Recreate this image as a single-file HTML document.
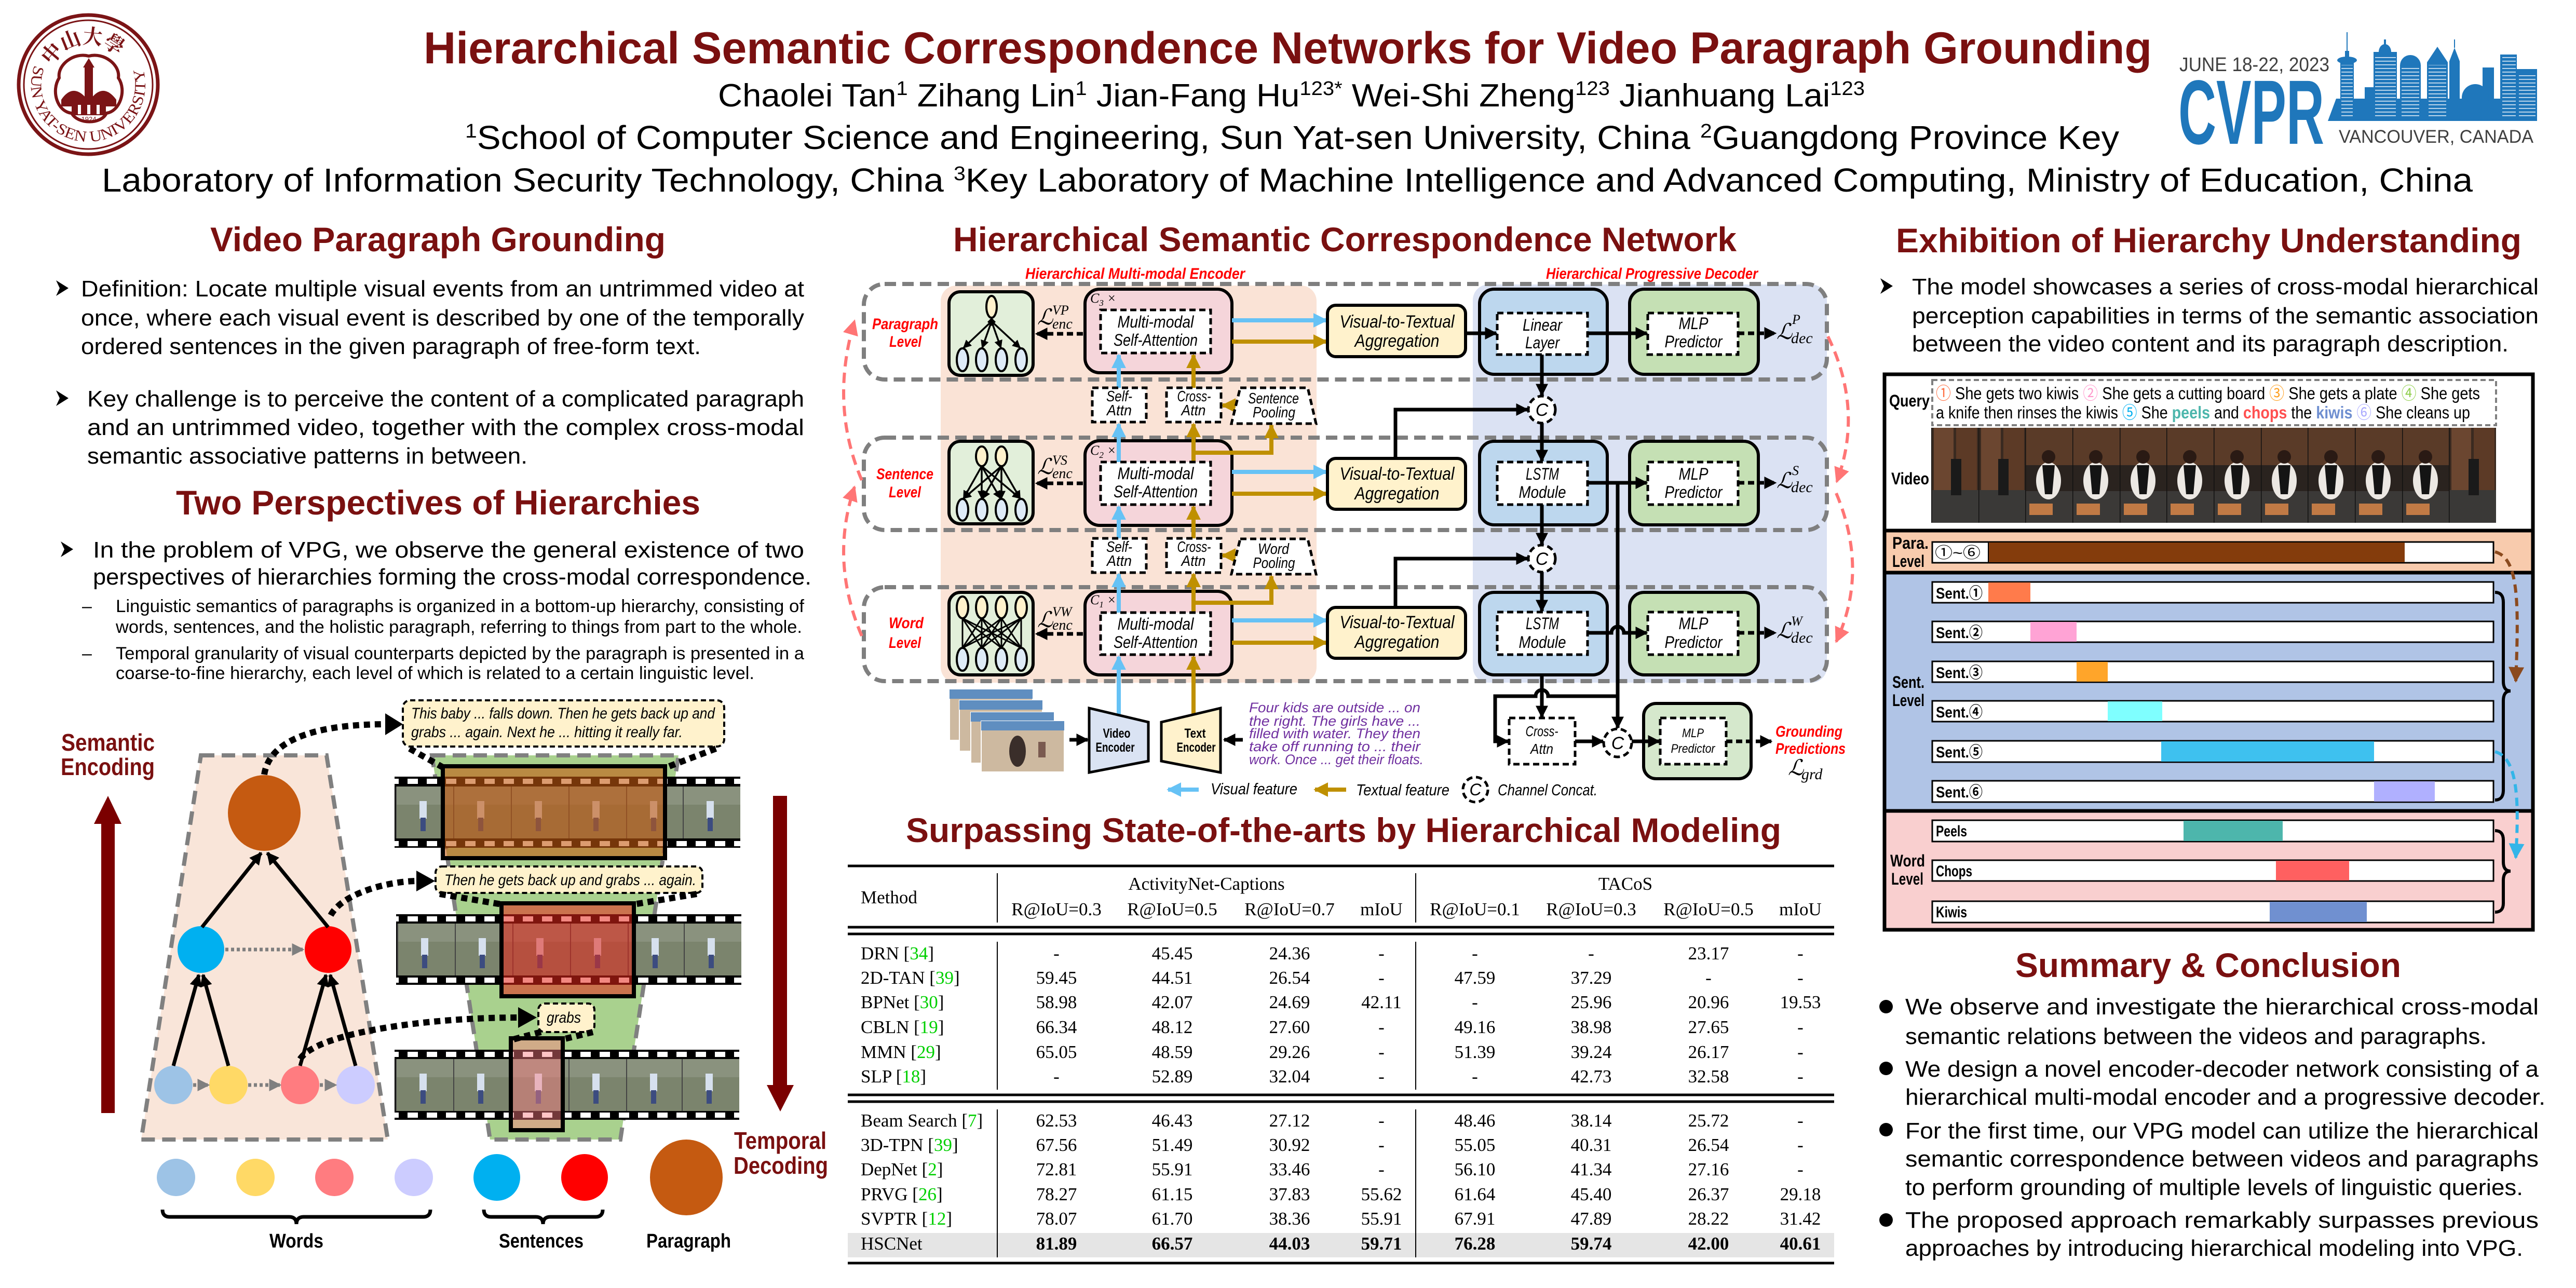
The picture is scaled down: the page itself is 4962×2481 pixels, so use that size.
<!DOCTYPE html>
<html><head><meta charset="utf-8">
<style>
html,body{margin:0;padding:0;background:#fff;}
svg{display:block}
text{font-family:'Liberation Sans','Noto Sans CJK JP',sans-serif;}
.h{font-weight:bold;font-size:66px;fill:#7A1010}
.b{font-size:44px;fill:#000}
.s{font-size:34px;fill:#000}
.it{font-style:italic}
.bd{font-weight:bold}
.sr, .sr text{font-family:'Liberation Serif','DejaVu Serif',serif}
.rl{font-weight:bold;font-style:italic;font-size:30px;fill:#FF0000}
.dt{font-style:italic;font-size:32px;fill:#000}
.tb, .tb text{font-family:'Liberation Serif','DejaVu Serif',serif;font-size:35px;fill:#000}
.cj, .cj text{font-family:'Liberation Sans','Noto Sans CJK JP',sans-serif}
</style></head><body>
<svg xmlns="http://www.w3.org/2000/svg" width="4962" height="2481" viewBox="0 0 4962 2481">
<defs>
<marker id="mk" viewBox="0 0 10 10" refX="9" refY="5" markerWidth="24" markerHeight="24" markerUnits="userSpaceOnUse" orient="auto"><path d="M0,0L10,5L0,10z" fill="#000"/></marker>
<marker id="mks" viewBox="0 0 10 10" refX="9" refY="5" markerWidth="16" markerHeight="16" markerUnits="userSpaceOnUse" orient="auto"><path d="M0,0L10,5L0,10z" fill="#000"/></marker>
<marker id="mkb" viewBox="0 0 10 10" refX="9" refY="5" markerWidth="28" markerHeight="28" markerUnits="userSpaceOnUse" orient="auto"><path d="M0,0L10,5L0,10z" fill="#66C2F5"/></marker>
<marker id="mkg" viewBox="0 0 10 10" refX="9" refY="5" markerWidth="28" markerHeight="28" markerUnits="userSpaceOnUse" orient="auto"><path d="M0,0L10,5L0,10z" fill="#BF9000"/></marker>
<marker id="mkgr" viewBox="0 0 10 10" refX="9" refY="5" markerWidth="24" markerHeight="24" markerUnits="userSpaceOnUse" orient="auto"><path d="M0,0L10,5L0,10z" fill="#7F7F7F"/></marker>
<marker id="mkr" viewBox="0 0 10 10" refX="9" refY="5" markerWidth="30" markerHeight="30" markerUnits="userSpaceOnUse" orient="auto"><path d="M0,0L10,5L0,10z" fill="#FF7575"/></marker>
<marker id="mkbr" viewBox="0 0 10 10" refX="9" refY="5" markerWidth="30" markerHeight="30" markerUnits="userSpaceOnUse" orient="auto"><path d="M0,0L10,5L0,10z" fill="#8B4A1E"/></marker>
<marker id="mkc" viewBox="0 0 10 10" refX="9" refY="5" markerWidth="30" markerHeight="30" markerUnits="userSpaceOnUse" orient="auto"><path d="M0,0L10,5L0,10z" fill="#33B5E8"/></marker>
<pattern id="holes" patternUnits="userSpaceOnUse" width="37" height="4"><rect x="8" y="0" width="20" height="4" fill="#fff"/></pattern>
<pattern id="win" patternUnits="userSpaceOnUse" width="6" height="7"><rect x="0" y="5" width="6" height="1.6" fill="#fff" opacity="0.85"/></pattern>
<g id="gf"><rect width="111" height="100" fill="#7B846D"/><rect width="111" height="35" fill="#8A927E"/><rect x="46" y="28" width="14" height="34" fill="#D6E0EE"/><rect x="48" y="60" width="10" height="26" fill="#3C4C80"/><rect x="0" y="0" width="2" height="100" fill="#444"/></g>
<g id="kf"><rect width="91" height="183" fill="#2A231F"/><rect width="91" height="72" fill="#5A3B28"/><rect y="122" width="91" height="61" fill="#3B3937"/><ellipse cx="45" cy="102" rx="24" ry="36" fill="#ECE8E3"/><path d="M33,72 L57,72 L52,128 L38,128Z" fill="#141414"/><circle cx="45" cy="56" r="13" fill="#2A1A14"/><rect x="8" y="146" width="45" height="22" fill="#C17A45"/><rect width="1.5" height="183" fill="#111"/></g>
<g id="kf2"><rect width="91" height="183" fill="#3A2A20"/><rect x="5" y="0" width="38" height="120" fill="#6B4630"/><rect x="48" y="0" width="40" height="120" fill="#5C3A26"/><rect y="120" width="91" height="63" fill="#3A3937"/><rect x="38" y="60" width="20" height="70" fill="#1A1A1A"/><rect width="1.5" height="183" fill="#111"/></g>
<g id="bf"><rect width="160" height="98" fill="#CDB9A0" stroke="#fff" stroke-width="2"/><rect width="160" height="18" fill="#5F8EC0"/><ellipse cx="70" cy="58" rx="16" ry="30" fill="#3A2E2A"/><rect x="110" y="40" width="14" height="30" fill="#7A5A50"/></g>
</defs>

<!-- ================= HEADER ================= -->
<g>
<circle cx="170" cy="163" r="134" fill="none" stroke="#7B1416" stroke-width="7"/>
<circle cx="170" cy="163" r="124" fill="none" stroke="#7B1416" stroke-width="3"/>
<path id="lgB" d="M 66.6,125.4 A 110 110 0 1 0 273.4,125.4" fill="none"/>
<text font-size="30" fill="#7B1416" class="sr"><textPath href="#lgB" textLength="415" lengthAdjust="spacingAndGlyphs">SUN YAT-SEN UNIVERSITY</textPath></text>
<path id="lgT" d="M 97,135 A 78 78 0 0 1 243,135" fill="none"/>
<text font-size="40" fill="#7B1416" style="font-family:'Noto Serif CJK SC','Noto Sans CJK SC',serif;font-weight:bold"><textPath href="#lgT" textLength="150" lengthAdjust="spacingAndGlyphs" startOffset="8">中山大學</textPath></text>
<path d="M171,108 C200,100 232,125 228,150 C245,175 230,215 205,218 C195,240 150,240 138,218 C110,215 98,175 114,150 C110,125 142,100 171,108Z" fill="#fff" stroke="#7B1416" stroke-width="6"/>
<path d="M118,192 Q140,160 165,188 L177,188 Q200,160 224,192 L224,205 L118,205Z" fill="#7B1416"/>
<rect x="163" y="128" width="16" height="75" fill="#7B1416"/>
<path d="M160,130 L171,112 L182,130Z" fill="#7B1416"/>
<rect x="138" y="196" width="66" height="26" fill="#7B1416"/>
<rect x="150" y="202" width="6" height="18" fill="#fff"/><rect x="168" y="202" width="6" height="18" fill="#fff"/><rect x="186" y="202" width="6" height="18" fill="#fff"/>
<text x="171" y="234" font-size="13" fill="#7B1416" text-anchor="middle">1924</text>
</g>

<text x="816" y="122" font-size="86" font-weight="bold" fill="#7A1010" textLength="3329" lengthAdjust="spacingAndGlyphs">Hierarchical Semantic Correspondence Networks for Video Paragraph Grounding</text>
<text x="1383" y="205" font-size="62" textLength="2209" lengthAdjust="spacingAndGlyphs">Chaolei Tan<tspan dy="-22" font-size="38">1</tspan><tspan dy="22"> Zihang Lin</tspan><tspan dy="-22" font-size="38">1</tspan><tspan dy="22"> Jian-Fang Hu</tspan><tspan dy="-22" font-size="38">123*</tspan><tspan dy="22"> Wei-Shi Zheng</tspan><tspan dy="-22" font-size="38">123</tspan><tspan dy="22"> Jianhuang Lai</tspan><tspan dy="-22" font-size="38">123</tspan></text>
<text x="896" y="287" font-size="64" textLength="3186" lengthAdjust="spacingAndGlyphs"><tspan dy="-22" font-size="38">1</tspan><tspan dy="22">School of Computer Science and Engineering, Sun Yat-sen University, China </tspan><tspan dy="-22" font-size="38">2</tspan><tspan dy="22">Guangdong Province Key</tspan></text>
<text x="196" y="369" font-size="64" textLength="4567" lengthAdjust="spacingAndGlyphs">Laboratory of Information Security Technology, China <tspan dy="-22" font-size="38">3</tspan><tspan dy="22">Key Laboratory of Machine Intelligence and Advanced Computing, Ministry of Education, China</tspan></text>

<!-- CVPR logo -->
<g>
<text x="4198" y="137" font-size="38" fill="#404040" textLength="289" lengthAdjust="spacingAndGlyphs">JUNE 18-22, 2023</text>
<text x="4196" y="277" font-size="176" font-weight="bold" fill="#1F77BB" textLength="281" lengthAdjust="spacingAndGlyphs">CVPR</text>
<text x="4505" y="275" font-size="35" fill="#404040" textLength="375" lengthAdjust="spacingAndGlyphs">VANCOUVER, CANADA</text>
<g fill="#1F77BB">
<path d="M4484,233 L4500,190 L4887,190 L4887,233Z"/>
<rect x="4508" y="118" width="26" height="115"/>
<ellipse cx="4521" cy="116" rx="19" ry="7"/>
<rect x="4517" y="98" width="8" height="14"/>
<rect x="4520" y="62" width="2" height="38"/>
<rect x="4572" y="100" width="45" height="133"/>
<ellipse cx="4594" cy="100" rx="12" ry="15"/>
<rect x="4592" y="76" width="4" height="12"/>
<rect x="4623" y="125" width="40" height="108"/>
<path d="M4623,126 A20,20 0 0 1 4663,126Z"/>
<path d="M4675,120 L4695,90 L4715,120Z"/>
<rect x="4675" y="120" width="40" height="113"/>
<path d="M4718,118 L4728,92 L4738,118Z"/>
<rect x="4718" y="118" width="20" height="115"/>
<rect x="4727" y="76" width="2" height="16"/>
<rect x="4782" y="130" width="22" height="103"/>
<circle cx="4768" cy="188" r="26"/>
<rect x="4816" y="105" width="32" height="128"/>
<rect x="4848" y="133" width="39" height="100"/>
<rect x="4555" y="168" width="60" height="65"/>
</g>
<rect x="4510" y="125" width="22" height="100" fill="url(#win)"/>
<rect x="4575" y="105" width="40" height="120" fill="url(#win)"/>
<rect x="4626" y="130" width="34" height="95" fill="url(#win)"/>
<rect x="4678" y="125" width="34" height="100" fill="url(#win)"/>
<rect x="4820" y="110" width="26" height="115" fill="url(#win)"/>
<rect x="4852" y="140" width="32" height="85" fill="url(#win)"/>
</g>

<!-- ================= LEFT COLUMN ================= -->
<text class="h" x="405" y="484" textLength="877" lengthAdjust="spacingAndGlyphs">Video Paragraph Grounding</text>
<path d="M108,540 L132,555 L108,570 L115,555Z"/>
<text class="b" x="156" y="571" textLength="1393" lengthAdjust="spacingAndGlyphs">Definition: Locate multiple visual events from an untrimmed video at</text>
<text class="b" x="156" y="627" textLength="1393" lengthAdjust="spacingAndGlyphs">once, where each visual event is described by one of the temporally</text>
<text class="b" x="156" y="682" textLength="1194" lengthAdjust="spacingAndGlyphs">ordered sentences in the given paragraph of free-form text.</text>
<path d="M108,752 L132,767 L108,782 L115,767Z"/>
<text class="b" x="168" y="783" textLength="1381" lengthAdjust="spacingAndGlyphs">Key challenge is to perceive the content of a complicated paragraph</text>
<text class="b" x="168" y="838" textLength="1381" lengthAdjust="spacingAndGlyphs">and an untrimmed video, together with the complex cross-modal</text>
<text class="b" x="168" y="893" textLength="848" lengthAdjust="spacingAndGlyphs">semantic associative patterns in between.</text>

<text class="h" x="339" y="991" textLength="1010" lengthAdjust="spacingAndGlyphs">Two Perspectives of Hierarchies</text>
<path d="M117,1043 L141,1058 L117,1073 L124,1058Z"/>
<text class="b" x="179" y="1074" textLength="1370" lengthAdjust="spacingAndGlyphs">In the problem of VPG, we observe the general existence of two</text>
<text class="b" x="179" y="1126" textLength="1384" lengthAdjust="spacingAndGlyphs">perspectives of hierarchies forming the cross-modal correspondence.</text>
<text class="s" x="158" y="1179">–</text>
<text class="s" x="223" y="1179" textLength="1326" lengthAdjust="spacingAndGlyphs">Linguistic semantics of paragraphs is organized in a bottom-up hierarchy, consisting of</text>
<text class="s" x="223" y="1219" textLength="1322" lengthAdjust="spacingAndGlyphs">words, sentences, and the holistic paragraph, referring to things from part to the whole.</text>
<text class="s" x="158" y="1270">–</text>
<text class="s" x="223" y="1270" textLength="1326" lengthAdjust="spacingAndGlyphs">Temporal granularity of visual counterparts depicted by the paragraph is presented in a</text>
<text class="s" x="223" y="1308" textLength="1230" lengthAdjust="spacingAndGlyphs">coarse-to-fine hierarchy, each level of which is related to a certain linguistic level.</text>

<!-- Left diagram -->
<text x="118" y="1446" font-size="46" font-weight="bold" fill="#7A1010" textLength="180" lengthAdjust="spacingAndGlyphs">Semantic</text>
<text x="117" y="1493" font-size="46" font-weight="bold" fill="#7A1010" textLength="181" lengthAdjust="spacingAndGlyphs">Encoding</text>
<rect x="195" y="1585" width="26" height="559" fill="#7B0000"/>
<path d="M181,1587 L234,1587 L208,1533Z" fill="#7B0000"/>
<rect x="1489" y="1533" width="27" height="559" fill="#7B0000"/>
<path d="M1477,2090 L1529,2090 L1503,2141Z" fill="#7B0000"/>
<text x="1414" y="2213" font-size="46" font-weight="bold" fill="#7A1010" textLength="178" lengthAdjust="spacingAndGlyphs">Temporal</text>
<text x="1413" y="2261" font-size="46" font-weight="bold" fill="#7A1010" textLength="182" lengthAdjust="spacingAndGlyphs">Decoding</text>

<polygon points="387,1455 629,1455 747,2195 272,2195" fill="#F9E5D9" stroke="#808080" stroke-width="8" stroke-dasharray="26 14"/>
<polygon points="832,1455 1307,1455 1195,2195 944,2195" fill="#A9D18E" stroke="#808080" stroke-width="8" stroke-dasharray="26 14"/>

<!-- film strips -->
<rect x="760" y="1496" width="666" height="137" fill="#000"/>
<use href="#gf" x="762" y="1515"/><use href="#gf" x="873" y="1515"/><use href="#gf" x="984" y="1515"/><use href="#gf" x="1095" y="1515"/><use href="#gf" x="1206" y="1515"/><use href="#gf" x="1315" y="1515"/>
<rect x="760" y="1500" width="666" height="10" fill="url(#holes)"/><rect x="760" y="1620" width="666" height="10" fill="url(#holes)"/>
<rect x="763" y="1761" width="665" height="136" fill="#000"/>
<use href="#gf" x="765" y="1779"/><use href="#gf" x="876" y="1779"/><use href="#gf" x="987" y="1779"/><use href="#gf" x="1098" y="1779"/><use href="#gf" x="1209" y="1779"/><use href="#gf" x="1317" y="1779"/>
<rect x="763" y="1765" width="665" height="10" fill="url(#holes)"/><rect x="763" y="1883" width="665" height="10" fill="url(#holes)"/>
<rect x="760" y="2022" width="664" height="135" fill="#000"/>
<use href="#gf" x="762" y="2040"/><use href="#gf" x="873" y="2040"/><use href="#gf" x="984" y="2040"/><use href="#gf" x="1095" y="2040"/><use href="#gf" x="1206" y="2040"/><use href="#gf" x="1313" y="2040"/>
<rect x="760" y="2026" width="664" height="10" fill="url(#holes)"/><rect x="760" y="2143" width="664" height="10" fill="url(#holes)"/>
<rect x="853" y="1476" width="428" height="177" fill="#C55A11" fill-opacity="0.6" stroke="#000" stroke-width="8"/>
<rect x="966" y="1740" width="255" height="179" fill="#E8261A" fill-opacity="0.55" stroke="#000" stroke-width="8"/>
<rect x="984" y="2000" width="100" height="177" fill="#FF7C80" fill-opacity="0.45" stroke="#000" stroke-width="8"/>

<!-- nodes -->
<ellipse cx="509" cy="1566" rx="70" ry="73" fill="#C55A11"/>
<ellipse cx="387" cy="1829" rx="45" ry="45" fill="#00B0F0"/>
<ellipse cx="632" cy="1829" rx="45" ry="45" fill="#FF0000"/>
<ellipse cx="334" cy="2090" rx="37" ry="37" fill="#9DC3E6"/>
<ellipse cx="440" cy="2090" rx="37" ry="37" fill="#FFD966"/>
<ellipse cx="578" cy="2090" rx="37" ry="37" fill="#FF7C80"/>
<ellipse cx="685" cy="2090" rx="37" ry="37" fill="#CCCCFF"/>
<g stroke="#000" stroke-width="7" marker-end="url(#mk)">
<line x1="334" y1="2053" x2="383" y2="1878"/>
<line x1="440" y1="2053" x2="391" y2="1878"/>
<line x1="578" y1="2053" x2="628" y2="1878"/>
<line x1="685" y1="2053" x2="636" y2="1878"/>
<line x1="389" y1="1786" x2="503" y2="1643"/>
<line x1="632" y1="1786" x2="515" y2="1643"/>
</g>
<g stroke="#7F7F7F" stroke-width="7" stroke-dasharray="6 5" marker-end="url(#mkgr)">
<line x1="434" y1="1829" x2="584" y2="1829"/>
<line x1="372" y1="2090" x2="402" y2="2090"/>
<line x1="478" y1="2090" x2="540" y2="2090"/>
<line x1="616" y1="2090" x2="647" y2="2090"/>
</g>
<!-- text boxes -->
<rect x="776" y="1349" width="619" height="89" rx="14" fill="#FFF2CC" stroke="#000" stroke-width="4" stroke-dasharray="10 6"/>
<text x="792" y="1384" font-size="30" font-style="italic" textLength="585" lengthAdjust="spacingAndGlyphs">This baby ... falls down. Then he gets back up and</text>
<text x="792" y="1420" font-size="30" font-style="italic" textLength="523" lengthAdjust="spacingAndGlyphs">grabs ... again. Next he ... hitting it really far.</text>
<rect x="839" y="1669" width="514" height="51" rx="12" fill="#FFF2CC" stroke="#000" stroke-width="4" stroke-dasharray="10 6"/>
<text x="856" y="1705" font-size="30" font-style="italic" textLength="485" lengthAdjust="spacingAndGlyphs">Then he gets back up and grabs ... again.</text>
<rect x="1037" y="1933" width="108" height="55" rx="12" fill="#FFF2CC" stroke="#000" stroke-width="4" stroke-dasharray="10 6"/>
<text x="1053" y="1970" font-size="30" font-style="italic" textLength="66" lengthAdjust="spacingAndGlyphs">grabs</text>
<!-- dotted curves -->
<g fill="none" stroke="#000" stroke-width="12" stroke-dasharray="12 9">
<path d="M509,1492 C520,1420 620,1395 745,1395"/>
<path d="M637,1763 C660,1720 750,1697 805,1697"/>
<path d="M578,2040 C610,1990 820,1960 1000,1960"/>
<line x1="789" y1="1442" x2="853" y2="1478"/>
<line x1="1379" y1="1442" x2="1284" y2="1478"/>
<line x1="847" y1="1722" x2="966" y2="1742"/>
<line x1="1342" y1="1722" x2="1221" y2="1742"/>
<line x1="1042" y1="1988" x2="989" y2="2002"/>
<line x1="1142" y1="1988" x2="1084" y2="2002"/>
</g>
<path d="M742,1374 L776,1395 L742,1416Z"/>
<path d="M802,1677 L838,1697 L802,1717Z"/>
<path d="M998,1940 L1034,1960 L998,1980Z"/>
<!-- legend -->
<ellipse cx="339" cy="2268" rx="37" ry="36" fill="#9DC3E6"/>
<ellipse cx="492" cy="2268" rx="37" ry="36" fill="#FFD966"/>
<ellipse cx="644" cy="2268" rx="37" ry="36" fill="#FF7C80"/>
<ellipse cx="797" cy="2268" rx="37" ry="36" fill="#CCCCFF"/>
<ellipse cx="957" cy="2268" rx="45" ry="45" fill="#00B0F0"/>
<ellipse cx="1126" cy="2268" rx="45" ry="45" fill="#FF0000"/>
<ellipse cx="1322" cy="2268" rx="70" ry="73" fill="#C55A11"/>
<path d="M313,2330 q0,14 14,14 H557 q14,0 14,14 q0,-14 14,-14 H815 q14,0 14,-14" fill="none" stroke="#000" stroke-width="7"/>
<path d="M932,2330 q0,14 14,14 H1032 q14,0 14,14 q0,-14 14,-14 H1147 q14,0 14,-14" fill="none" stroke="#000" stroke-width="7"/>
<text x="519" y="2403" font-size="38" font-weight="bold" textLength="104" lengthAdjust="spacingAndGlyphs">Words</text>
<text x="961" y="2403" font-size="38" font-weight="bold" textLength="163" lengthAdjust="spacingAndGlyphs">Sentences</text>
<text x="1245" y="2403" font-size="38" font-weight="bold" textLength="163" lengthAdjust="spacingAndGlyphs">Paragraph</text>

<!-- ================= MIDDLE COLUMN ================= -->
<text class="h" x="1836" y="484" textLength="1509" lengthAdjust="spacingAndGlyphs">Hierarchical Semantic Correspondence Network</text>
<text class="rl" x="1975" y="537" textLength="423" lengthAdjust="spacingAndGlyphs">Hierarchical  Multi-modal Encoder</text>
<text class="rl" x="2978" y="537" textLength="408" lengthAdjust="spacingAndGlyphs">Hierarchical Progressive Decoder</text>

<rect x="1812" y="550" width="724" height="765" rx="30" fill="#FAE3D6"/>
<rect x="2837" y="548" width="682" height="767" rx="30" fill="#DBE2F3"/>
<g fill="none" stroke="#7F7F7F" stroke-width="8" stroke-dasharray="22 12">
<rect x="1664" y="547" width="1855" height="184" rx="40"/>
<rect x="1664" y="843" width="1855" height="178" rx="40"/>
<rect x="1664" y="1131" width="1855" height="181" rx="40"/>
</g>
<!-- level labels -->
<text class="rl" x="1680" y="634" textLength="127" lengthAdjust="spacingAndGlyphs">Paragraph</text>
<text class="rl" x="1713" y="668" textLength="62" lengthAdjust="spacingAndGlyphs">Level</text>
<text class="rl" x="1688" y="923" textLength="110" lengthAdjust="spacingAndGlyphs">Sentence</text>
<text class="rl" x="1712" y="958" textLength="62" lengthAdjust="spacingAndGlyphs">Level</text>
<text class="rl" x="1712" y="1210" textLength="67" lengthAdjust="spacingAndGlyphs">Word</text>
<text class="rl" x="1712" y="1248" textLength="62" lengthAdjust="spacingAndGlyphs">Level</text>

<!-- red dashed curves -->
<g fill="none" stroke="#FF7575" stroke-width="6" stroke-dasharray="20 12" marker-end="url(#mkr)">
<path d="M1660,925 Q1598,780 1646,618"/>
<path d="M1660,1225 Q1598,1080 1646,938"/>
<path d="M3521,648 Q3590,790 3538,928"/>
<path d="M3537,950 Q3600,1100 3537,1236"/>
</g>

<!-- graph boxes -->
<g stroke="#000" stroke-width="6" fill="#E2EFDA">
<rect x="1828" y="562" width="162" height="161" rx="22"/>
<rect x="1828" y="850" width="162" height="159" rx="22"/>
<rect x="1828" y="1141" width="162" height="159" rx="22"/>
</g>
<g stroke="#000" stroke-width="3.5" marker-end="url(#mks)">
<line x1="1910" y1="619" x2="1856" y2="670"/><line x1="1910" y1="619" x2="1892" y2="670"/><line x1="1910" y1="619" x2="1928" y2="670"/><line x1="1910" y1="619" x2="1965" y2="670"/>
<line x1="1891" y1="898" x2="1856" y2="960"/><line x1="1891" y1="898" x2="1891" y2="960"/><line x1="1891" y1="898" x2="1927" y2="960"/><line x1="1891" y1="898" x2="1965" y2="960"/>
<line x1="1929" y1="898" x2="1856" y2="960"/><line x1="1929" y1="898" x2="1893" y2="960"/><line x1="1929" y1="898" x2="1929" y2="960"/><line x1="1929" y1="898" x2="1965" y2="960"/>
</g>
<g stroke="#000" stroke-width="3">
<line x1="1854" y1="1191" x2="1854" y2="1248"/><line x1="1854" y1="1191" x2="1891" y2="1248"/><line x1="1854" y1="1191" x2="1929" y2="1248"/><line x1="1854" y1="1191" x2="1967" y2="1248"/>
<line x1="1891" y1="1191" x2="1854" y2="1248"/><line x1="1891" y1="1191" x2="1891" y2="1248"/><line x1="1891" y1="1191" x2="1929" y2="1248"/><line x1="1891" y1="1191" x2="1967" y2="1248"/>
<line x1="1929" y1="1191" x2="1854" y2="1248"/><line x1="1929" y1="1191" x2="1891" y2="1248"/><line x1="1929" y1="1191" x2="1929" y2="1248"/><line x1="1929" y1="1191" x2="1967" y2="1248"/>
<line x1="1967" y1="1191" x2="1854" y2="1248"/><line x1="1967" y1="1191" x2="1891" y2="1248"/><line x1="1967" y1="1191" x2="1929" y2="1248"/><line x1="1967" y1="1191" x2="1967" y2="1248"/>
</g>
<path d="M1910,612 L1918,620 L1910,628 L1902,620Z"/>
<g stroke="#000" stroke-width="4">
<ellipse cx="1910" cy="591" rx="10" ry="21" fill="#FFF2CC"/>
<ellipse cx="1854" cy="693" rx="11" ry="22" fill="#DEEBF7"/><ellipse cx="1891" cy="693" rx="11" ry="22" fill="#DEEBF7"/><ellipse cx="1929" cy="693" rx="11" ry="22" fill="#DEEBF7"/><ellipse cx="1967" cy="693" rx="11" ry="22" fill="#DEEBF7"/>
<ellipse cx="1891" cy="879" rx="11" ry="19" fill="#FFF2CC"/><ellipse cx="1929" cy="879" rx="11" ry="19" fill="#FFF2CC"/>
<ellipse cx="1854" cy="982" rx="11" ry="21" fill="#DEEBF7"/><ellipse cx="1891" cy="982" rx="11" ry="21" fill="#DEEBF7"/><ellipse cx="1929" cy="982" rx="11" ry="21" fill="#DEEBF7"/><ellipse cx="1967" cy="982" rx="11" ry="21" fill="#DEEBF7"/>
<ellipse cx="1854" cy="1170" rx="11" ry="21" fill="#FFF2CC"/><ellipse cx="1891" cy="1170" rx="11" ry="21" fill="#FFF2CC"/><ellipse cx="1929" cy="1170" rx="11" ry="21" fill="#FFF2CC"/><ellipse cx="1967" cy="1170" rx="11" ry="21" fill="#FFF2CC"/>
<ellipse cx="1854" cy="1270" rx="11" ry="22" fill="#DEEBF7"/><ellipse cx="1891" cy="1270" rx="11" ry="22" fill="#DEEBF7"/><ellipse cx="1929" cy="1270" rx="11" ry="22" fill="#DEEBF7"/><ellipse cx="1967" cy="1270" rx="11" ry="22" fill="#DEEBF7"/>
</g>

<!-- L_enc labels -->
<g class="sr" font-style="italic">
<text x="1998" y="625" font-size="42">ℒ</text><text x="2027" y="606" font-size="26">VP</text><text x="2027" y="633" font-size="28">enc</text>
<text x="1998" y="913" font-size="42">ℒ</text><text x="2027" y="895" font-size="26">VS</text><text x="2027" y="921" font-size="28">enc</text>
<text x="1998" y="1208" font-size="42">ℒ</text><text x="2027" y="1187" font-size="26">VW</text><text x="2027" y="1213" font-size="28">enc</text>
</g>
<g stroke="#000" stroke-width="7" stroke-dasharray="12 7" marker-end="url(#mk)">
<line x1="2086" y1="643" x2="1996" y2="643"/>
<line x1="2086" y1="931" x2="1996" y2="931"/>
<line x1="2086" y1="1221" x2="1996" y2="1221"/>
</g>

<!-- pink boxes -->
<g stroke="#000" stroke-width="6" fill="#F5D5DA">
<rect x="2090" y="557" width="283" height="161" rx="28"/>
<rect x="2090" y="849" width="283" height="163" rx="28"/>
<rect x="2090" y="1139" width="283" height="161" rx="28"/>
</g>
<g class="sr" font-style="italic" font-size="26">
<text x="2100" y="583">C<tspan font-size="17" dy="6">3</tspan><tspan dy="-6"> ×</tspan></text>
<text x="2100" y="876">C<tspan font-size="17" dy="6">2</tspan><tspan dy="-6"> ×</tspan></text>
<text x="2100" y="1164">C<tspan font-size="17" dy="6">1</tspan><tspan dy="-6"> ×</tspan></text>
</g>

<!-- vertical blue/gold lines (behind inner boxes) -->
<g stroke="#66C2F5" stroke-width="8" marker-end="url(#mkb)">
<line x1="2155" y1="747" x2="2155" y2="684"/>
<line x1="2155" y1="890" x2="2155" y2="817"/>
<line x1="2155" y1="1037" x2="2155" y2="976"/>
<line x1="2155" y1="1180" x2="2155" y2="1106"/>
<line x1="2155" y1="1377" x2="2155" y2="1265"/>
</g>
<g stroke="#BF9000" stroke-width="8" fill="none">
<line x1="2299" y1="747" x2="2299" y2="684" marker-end="url(#mkg)"/>
<line x1="2299" y1="890" x2="2299" y2="817" marker-end="url(#mkg)"/>
<line x1="2299" y1="1037" x2="2299" y2="976" marker-end="url(#mkg)"/>
<line x1="2299" y1="1180" x2="2299" y2="1106" marker-end="url(#mkg)"/>
<line x1="2299" y1="1376" x2="2299" y2="1265" marker-end="url(#mkg)"/>
<path d="M2299,872 H2449 V819" marker-end="url(#mkg)"/>
<path d="M2299,1161 H2449 V1110" marker-end="url(#mkg)"/>
<line x1="2380" y1="781" x2="2355" y2="781" marker-end="url(#mkg)"/>
<line x1="2380" y1="1070" x2="2355" y2="1070" marker-end="url(#mkg)"/>
</g>

<!-- inner dashed boxes -->
<g fill="#fff" stroke="#000" stroke-width="5" stroke-dasharray="12 7">
<rect x="2120" y="597" width="212" height="83"/>
<rect x="2120" y="890" width="212" height="82"/>
<rect x="2120" y="1180" width="212" height="81"/>
<rect x="2104" y="747" width="104" height="66"/>
<rect x="2247" y="747" width="105" height="66"/>
<rect x="2104" y="1037" width="104" height="66"/>
<rect x="2247" y="1037" width="105" height="66"/>
<polygon points="2389,747 2519,747 2535,816 2372,816"/>
<polygon points="2389,1038 2519,1038 2535,1106 2372,1106"/>
</g>
<g class="dt" text-anchor="middle">
<text x="2226" y="631" textLength="147" lengthAdjust="spacingAndGlyphs">Multi-modal</text>
<text x="2226" y="666" textLength="162" lengthAdjust="spacingAndGlyphs">Self-Attention</text>
<text x="2226" y="923" textLength="147" lengthAdjust="spacingAndGlyphs">Multi-modal</text>
<text x="2226" y="958" textLength="162" lengthAdjust="spacingAndGlyphs">Self-Attention</text>
<text x="2226" y="1213" textLength="147" lengthAdjust="spacingAndGlyphs">Multi-modal</text>
<text x="2226" y="1248" textLength="162" lengthAdjust="spacingAndGlyphs">Self-Attention</text>
</g>
<g font-style="italic" font-size="29" text-anchor="middle">
<text x="2156" y="773" textLength="50" lengthAdjust="spacingAndGlyphs">Self-</text>
<text x="2156" y="800" textLength="48" lengthAdjust="spacingAndGlyphs">Attn</text>
<text x="2300" y="773" textLength="65" lengthAdjust="spacingAndGlyphs">Cross-</text>
<text x="2299" y="800" textLength="47" lengthAdjust="spacingAndGlyphs">Attn</text>
<text x="2453" y="777" textLength="98" lengthAdjust="spacingAndGlyphs">Sentence</text>
<text x="2454" y="804" textLength="82" lengthAdjust="spacingAndGlyphs">Pooling</text>
<text x="2156" y="1063" textLength="50" lengthAdjust="spacingAndGlyphs">Self-</text>
<text x="2156" y="1090" textLength="48" lengthAdjust="spacingAndGlyphs">Attn</text>
<text x="2300" y="1063" textLength="65" lengthAdjust="spacingAndGlyphs">Cross-</text>
<text x="2299" y="1090" textLength="47" lengthAdjust="spacingAndGlyphs">Attn</text>
<text x="2453" y="1067" textLength="60" lengthAdjust="spacingAndGlyphs">Word</text>
<text x="2454" y="1094" textLength="81" lengthAdjust="spacingAndGlyphs">Pooling</text>
</g>

<!-- horizontal blue/gold arrows -->
<g stroke="#66C2F5" stroke-width="8" marker-end="url(#mkb)">
<line x1="2373" y1="617" x2="2555" y2="617"/>
<line x1="2373" y1="909" x2="2555" y2="909"/>
<line x1="2373" y1="1195" x2="2555" y2="1195"/>
</g>
<g stroke="#BF9000" stroke-width="8" marker-end="url(#mkg)">
<line x1="2373" y1="658" x2="2555" y2="658"/>
<line x1="2373" y1="951" x2="2555" y2="951"/>
<line x1="2373" y1="1238" x2="2555" y2="1238"/>
</g>

<!-- V2T boxes -->
<g stroke="#000" stroke-width="6" fill="#FFF2CC">
<rect x="2557" y="588" width="266" height="99" rx="16"/>
<rect x="2557" y="883" width="266" height="98" rx="16"/>
<rect x="2557" y="1170" width="266" height="98" rx="16"/>
</g>
<g font-style="italic" font-size="34" text-anchor="middle">
<text x="2691" y="631" textLength="221" lengthAdjust="spacingAndGlyphs">Visual-to-Textual</text>
<text x="2691" y="668" textLength="163" lengthAdjust="spacingAndGlyphs">Aggregation</text>
<text x="2691" y="924" textLength="221" lengthAdjust="spacingAndGlyphs">Visual-to-Textual</text>
<text x="2691" y="962" textLength="163" lengthAdjust="spacingAndGlyphs">Aggregation</text>
<text x="2691" y="1210" textLength="221" lengthAdjust="spacingAndGlyphs">Visual-to-Textual</text>
<text x="2691" y="1248" textLength="163" lengthAdjust="spacingAndGlyphs">Aggregation</text>
</g>

<!-- decoder connections -->
<g stroke="#000" stroke-width="7" fill="none">
<path d="M2688,883 V789 H2942" marker-end="url(#mk)"/>
<path d="M2688,1170 V1076 H2942" marker-end="url(#mk)"/>
<line x1="3116" y1="930" x2="3116" y2="1402" marker-end="url(#mk)"/>
<path d="M3116,1341 H2982 a12,12 0 0 0 -24,0 H2880 V1428 H2905" marker-end="url(#mk)"/>
<line x1="2970" y1="1261" x2="2970" y2="1381" marker-end="url(#mk)"/>
</g>

<!-- decoder boxes -->
<g stroke="#000" stroke-width="6">
<rect x="2850" y="557" width="246" height="164" rx="28" fill="#BDD7EE"/>
<rect x="2850" y="850" width="246" height="161" rx="28" fill="#BDD7EE"/>
<rect x="2850" y="1141" width="246" height="159" rx="28" fill="#BDD7EE"/>
<rect x="3139" y="557" width="248" height="164" rx="28" fill="#C5E0B4"/>
<rect x="3139" y="850" width="248" height="161" rx="28" fill="#C5E0B4"/>
<rect x="3139" y="1141" width="248" height="159" rx="28" fill="#C5E0B4"/>
<rect x="3166" y="1355" width="207" height="145" rx="24" fill="#D5E8CC"/>
</g>
<g stroke="#000" stroke-width="7" fill="none">
<line x1="2970" y1="683" x2="2970" y2="761" marker-end="url(#mk)"/>
<line x1="2970" y1="815" x2="2970" y2="888" marker-end="url(#mk)"/>
<line x1="2970" y1="972" x2="2970" y2="1048" marker-end="url(#mk)"/>
<line x1="2970" y1="1102" x2="2970" y2="1177" marker-end="url(#mk)"/>
<line x1="2823" y1="642" x2="2882" y2="642" marker-end="url(#mk)"/>
<line x1="3058" y1="642" x2="3172" y2="642" marker-end="url(#mk)"/>
<line x1="3058" y1="930" x2="3172" y2="930" marker-end="url(#mk)"/>
<path d="M3058,1219 H3104 a12,12 0 0 1 24,0 H3172" marker-end="url(#mk)"/>
<line x1="3034" y1="1428" x2="3088" y2="1428" marker-end="url(#mk)"/>
<line x1="3143" y1="1428" x2="3196" y2="1428" marker-end="url(#mk)"/>
</g>
<g stroke="#000" stroke-width="7" stroke-dasharray="12 7" marker-end="url(#mk)">
<line x1="3348" y1="642" x2="3420" y2="642"/>
<line x1="3348" y1="930" x2="3420" y2="930"/>
<line x1="3348" y1="1219" x2="3420" y2="1219"/>
<line x1="3325" y1="1428" x2="3412" y2="1428"/>
</g>
<g fill="#fff" stroke="#000" stroke-width="5" stroke-dasharray="12 7">
<rect x="2884" y="603" width="174" height="80"/>
<rect x="2884" y="890" width="174" height="82"/>
<rect x="2884" y="1179" width="174" height="82"/>
<rect x="3174" y="603" width="174" height="80"/>
<rect x="3174" y="890" width="174" height="82"/>
<rect x="3174" y="1179" width="174" height="82"/>
<rect x="2907" y="1383" width="127" height="89"/>
<rect x="3198" y="1383" width="127" height="89"/>
<circle cx="2970" cy="789" r="26"/>
<circle cx="2970" cy="1076" r="26"/>
<circle cx="3116" cy="1431" r="27"/>
<circle cx="2842" cy="1521" r="24"/>
</g>
<g class="dt" text-anchor="middle">
<text x="2971" y="637" textLength="76" lengthAdjust="spacingAndGlyphs">Linear</text>
<text x="2971" y="671" textLength="66" lengthAdjust="spacingAndGlyphs">Layer</text>
<text x="2971" y="924" textLength="64" lengthAdjust="spacingAndGlyphs">LSTM</text>
<text x="2971" y="959" textLength="91" lengthAdjust="spacingAndGlyphs">Module</text>
<text x="2971" y="1212" textLength="64" lengthAdjust="spacingAndGlyphs">LSTM</text>
<text x="2971" y="1248" textLength="91" lengthAdjust="spacingAndGlyphs">Module</text>
<text x="3262" y="634" textLength="57" lengthAdjust="spacingAndGlyphs">MLP</text>
<text x="3262" y="669" textLength="111" lengthAdjust="spacingAndGlyphs">Predictor</text>
<text x="3262" y="924" textLength="57" lengthAdjust="spacingAndGlyphs">MLP</text>
<text x="3262" y="959" textLength="111" lengthAdjust="spacingAndGlyphs">Predictor</text>
<text x="3262" y="1212" textLength="57" lengthAdjust="spacingAndGlyphs">MLP</text>
<text x="3262" y="1248" textLength="111" lengthAdjust="spacingAndGlyphs">Predictor</text>
<text x="2970" y="1418" font-size="28" textLength="63" lengthAdjust="spacingAndGlyphs">Cross-</text>
<text x="2970" y="1452" font-size="28" textLength="44" lengthAdjust="spacingAndGlyphs">Attn</text>
<text x="3261" y="1420" font-size="24" textLength="42" lengthAdjust="spacingAndGlyphs">MLP</text>
<text x="3261" y="1450" font-size="24" textLength="85" lengthAdjust="spacingAndGlyphs">Predictor</text>
<text x="2970" y="801" font-size="34">C</text>
<text x="2970" y="1088" font-size="34">C</text>
<text x="3116" y="1443" font-size="34">C</text>
<text x="2842" y="1532" font-size="32">C</text>
</g>
<!-- L_dec labels -->
<g class="sr" font-style="italic">
<text x="3422" y="653" font-size="42">ℒ</text><text x="3452" y="624" font-size="26">P</text><text x="3450" y="661" font-size="30">dec</text>
<text x="3422" y="940" font-size="42">ℒ</text><text x="3452" y="915" font-size="26">S</text><text x="3450" y="948" font-size="30">dec</text>
<text x="3422" y="1229" font-size="42">ℒ</text><text x="3450" y="1205" font-size="26">W</text><text x="3450" y="1238" font-size="30">dec</text>
<text x="3444" y="1493" font-size="42">ℒ</text><text x="3470" y="1501" font-size="30">grd</text>
</g>
<text class="rl" x="3420" y="1419" textLength="129" lengthAdjust="spacingAndGlyphs">Grounding</text>
<text class="rl" x="3420" y="1452" textLength="135" lengthAdjust="spacingAndGlyphs">Predictions</text>

<!-- inputs -->
<use href="#bf" x="1829" y="1328"/>
<use href="#bf" x="1848" y="1349"/>
<use href="#bf" x="1870" y="1372"/>
<use href="#bf" x="1890" y="1389"/>
<line x1="2060" y1="1425" x2="2095" y2="1425" stroke="#000" stroke-width="7" marker-end="url(#mk)"/>
<polygon points="2098,1364 2212,1391 2212,1466 2098,1488" fill="#DAE3F3" stroke="#000" stroke-width="5"/>
<polygon points="2237,1391 2351,1364 2351,1488 2237,1466" fill="#FFF2CC" stroke="#000" stroke-width="5"/>
<g font-size="25" font-weight="bold" text-anchor="middle">
<text x="2151" y="1421" textLength="53" lengthAdjust="spacingAndGlyphs">Video</text>
<text x="2148" y="1448" textLength="75" lengthAdjust="spacingAndGlyphs">Encoder</text>
<text x="2302" y="1421" textLength="41" lengthAdjust="spacingAndGlyphs">Text</text>
<text x="2304" y="1448" textLength="75" lengthAdjust="spacingAndGlyphs">Encoder</text>
</g>
<line x1="2394" y1="1425" x2="2358" y2="1425" stroke="#000" stroke-width="7" marker-end="url(#mk)"/>
<g font-size="27" font-style="italic" fill="#7030A0">
<text x="2406" y="1372" textLength="330" lengthAdjust="spacingAndGlyphs">Four kids are outside ... on</text>
<text x="2406" y="1398" textLength="330" lengthAdjust="spacingAndGlyphs">the right. The girls have ...</text>
<text x="2406" y="1422" textLength="330" lengthAdjust="spacingAndGlyphs">filled with water. They then</text>
<text x="2406" y="1447" textLength="330" lengthAdjust="spacingAndGlyphs">take off running to ... their</text>
<text x="2406" y="1472" textLength="336" lengthAdjust="spacingAndGlyphs">work. Once ... get their floats.</text>
</g>
<line x1="2309" y1="1521" x2="2250" y2="1521" stroke="#66C2F5" stroke-width="8" marker-end="url(#mkb)"/>
<line x1="2593" y1="1521" x2="2533" y2="1521" stroke="#BF9000" stroke-width="8" marker-end="url(#mkg)"/>
<g font-size="31" font-style="italic">
<text x="2332" y="1530" textLength="167" lengthAdjust="spacingAndGlyphs">Visual feature</text>
<text x="2612" y="1532" textLength="180" lengthAdjust="spacingAndGlyphs">Textual feature</text>
<text x="2885" y="1532" textLength="192" lengthAdjust="spacingAndGlyphs">Channel Concat.</text>
</g>

<!-- ================= TABLE ================= -->
<text class="h" x="1745" y="1622" textLength="1686" lengthAdjust="spacingAndGlyphs">Surpassing State-of-the-arts by Hierarchical Modeling</text>
<rect x="1633" y="2375" width="1900" height="47" fill="#E5E5E5"/>
<g stroke="#000" stroke-width="5">
<line x1="1633" y1="1668" x2="3533" y2="1668"/>
<line x1="1633" y1="1786" x2="3533" y2="1786"/>
<line x1="1633" y1="1799" x2="3533" y2="1799"/>
<line x1="1633" y1="2109" x2="3533" y2="2109"/>
<line x1="1633" y1="2122" x2="3533" y2="2122"/>
<line x1="1633" y1="2433" x2="3533" y2="2433"/>
</g>
<g stroke="#000" stroke-width="2">
<line x1="1921" y1="1682" x2="1921" y2="1777"/><line x1="1921" y1="1814" x2="1921" y2="2099"/><line x1="1921" y1="2137" x2="1921" y2="2422"/>
<line x1="2727" y1="1682" x2="2727" y2="1777"/><line x1="2727" y1="1814" x2="2727" y2="2099"/><line x1="2727" y1="2137" x2="2727" y2="2422"/>
</g>
<g class="tb">
<text x="1658" y="1740">Method</text>
<g text-anchor="middle">
<text x="2324" y="1714">ActivityNet-Captions</text>
<text x="3131" y="1714">TACoS</text>
<text x="2035" y="1763">R@IoU=0.3</text><text x="2258" y="1763">R@IoU=0.5</text><text x="2484" y="1763">R@IoU=0.7</text><text x="2661" y="1763">mIoU</text>
<text x="2841" y="1763">R@IoU=0.1</text><text x="3065" y="1763">R@IoU=0.3</text><text x="3291" y="1763">R@IoU=0.5</text><text x="3468" y="1763">mIoU</text>
</g>
<text x="1658" y="1848">DRN [<tspan fill="#00D000">34</tspan>]</text>
<text x="1658" y="1895">2D-TAN [<tspan fill="#00D000">39</tspan>]</text>
<text x="1658" y="1942">BPNet [<tspan fill="#00D000">30</tspan>]</text>
<text x="1658" y="1990">CBLN [<tspan fill="#00D000">19</tspan>]</text>
<text x="1658" y="2038">MMN [<tspan fill="#00D000">29</tspan>]</text>
<text x="1658" y="2085">SLP [<tspan fill="#00D000">18</tspan>]</text>
<text x="1658" y="2170">Beam Search [<tspan fill="#00D000">7</tspan>]</text>
<text x="1658" y="2217">3D-TPN [<tspan fill="#00D000">39</tspan>]</text>
<text x="1658" y="2264">DepNet [<tspan fill="#00D000">2</tspan>]</text>
<text x="1658" y="2312">PRVG [<tspan fill="#00D000">26</tspan>]</text>
<text x="1658" y="2359">SVPTR [<tspan fill="#00D000">12</tspan>]</text>
<text x="1658" y="2407">HSCNet</text>
<g text-anchor="middle">
<text y="1848"><tspan x="2035">-</tspan><tspan x="2258">45.45</tspan><tspan x="2484">24.36</tspan><tspan x="2661">-</tspan><tspan x="2841">-</tspan><tspan x="3065">-</tspan><tspan x="3291">23.17</tspan><tspan x="3468">-</tspan></text>
<text y="1895"><tspan x="2035">59.45</tspan><tspan x="2258">44.51</tspan><tspan x="2484">26.54</tspan><tspan x="2661">-</tspan><tspan x="2841">47.59</tspan><tspan x="3065">37.29</tspan><tspan x="3291">-</tspan><tspan x="3468">-</tspan></text>
<text y="1942"><tspan x="2035">58.98</tspan><tspan x="2258">42.07</tspan><tspan x="2484">24.69</tspan><tspan x="2661">42.11</tspan><tspan x="2841">-</tspan><tspan x="3065">25.96</tspan><tspan x="3291">20.96</tspan><tspan x="3468">19.53</tspan></text>
<text y="1990"><tspan x="2035">66.34</tspan><tspan x="2258">48.12</tspan><tspan x="2484">27.60</tspan><tspan x="2661">-</tspan><tspan x="2841">49.16</tspan><tspan x="3065">38.98</tspan><tspan x="3291">27.65</tspan><tspan x="3468">-</tspan></text>
<text y="2038"><tspan x="2035">65.05</tspan><tspan x="2258">48.59</tspan><tspan x="2484">29.26</tspan><tspan x="2661">-</tspan><tspan x="2841">51.39</tspan><tspan x="3065">39.24</tspan><tspan x="3291">26.17</tspan><tspan x="3468">-</tspan></text>
<text y="2085"><tspan x="2035">-</tspan><tspan x="2258">52.89</tspan><tspan x="2484">32.04</tspan><tspan x="2661">-</tspan><tspan x="2841">-</tspan><tspan x="3065">42.73</tspan><tspan x="3291">32.58</tspan><tspan x="3468">-</tspan></text>
<text y="2170"><tspan x="2035">62.53</tspan><tspan x="2258">46.43</tspan><tspan x="2484">27.12</tspan><tspan x="2661">-</tspan><tspan x="2841">48.46</tspan><tspan x="3065">38.14</tspan><tspan x="3291">25.72</tspan><tspan x="3468">-</tspan></text>
<text y="2217"><tspan x="2035">67.56</tspan><tspan x="2258">51.49</tspan><tspan x="2484">30.92</tspan><tspan x="2661">-</tspan><tspan x="2841">55.05</tspan><tspan x="3065">40.31</tspan><tspan x="3291">26.54</tspan><tspan x="3468">-</tspan></text>
<text y="2264"><tspan x="2035">72.81</tspan><tspan x="2258">55.91</tspan><tspan x="2484">33.46</tspan><tspan x="2661">-</tspan><tspan x="2841">56.10</tspan><tspan x="3065">41.34</tspan><tspan x="3291">27.16</tspan><tspan x="3468">-</tspan></text>
<text y="2312"><tspan x="2035">78.27</tspan><tspan x="2258">61.15</tspan><tspan x="2484">37.83</tspan><tspan x="2661">55.62</tspan><tspan x="2841">61.64</tspan><tspan x="3065">45.40</tspan><tspan x="3291">26.37</tspan><tspan x="3468">29.18</tspan></text>
<text y="2359"><tspan x="2035">78.07</tspan><tspan x="2258">61.70</tspan><tspan x="2484">38.36</tspan><tspan x="2661">55.91</tspan><tspan x="2841">67.91</tspan><tspan x="3065">47.89</tspan><tspan x="3291">28.22</tspan><tspan x="3468">31.42</tspan></text>
<text y="2407" font-weight="bold"><tspan x="2035">81.89</tspan><tspan x="2258">66.57</tspan><tspan x="2484">44.03</tspan><tspan x="2661">59.71</tspan><tspan x="2841">76.28</tspan><tspan x="3065">59.74</tspan><tspan x="3291">42.00</tspan><tspan x="3468">40.61</tspan></text>
</g>
</g>

<!-- ================= RIGHT COLUMN ================= -->
<text class="h" x="3652" y="486" textLength="1205" lengthAdjust="spacingAndGlyphs">Exhibition of Hierarchy Understanding</text>
<path d="M3622,536 L3646,551 L3622,566 L3629,551Z"/>
<text class="b" x="3683" y="567" textLength="1207" lengthAdjust="spacingAndGlyphs">The model showcases a series of cross-modal hierarchical</text>
<text class="b" x="3683" y="623" textLength="1207" lengthAdjust="spacingAndGlyphs">perception capabilities in terms of the semantic association</text>
<text class="b" x="3683" y="677" textLength="1149" lengthAdjust="spacingAndGlyphs">between the video content and its paragraph description.</text>

<rect x="3630" y="721" width="1249" height="301" fill="#fff"/>
<rect x="3630" y="1022" width="1249" height="81" fill="#F8CBAD"/>
<rect x="3630" y="1103" width="1249" height="459" fill="#B0C4E6"/>
<rect x="3630" y="1562" width="1249" height="229" fill="#F9CFCF"/>
<g stroke="#000" stroke-width="7">
<line x1="3630" y1="1022" x2="4879" y2="1022"/>
<line x1="3630" y1="1103" x2="4879" y2="1103"/>
<line x1="3630" y1="1562" x2="4879" y2="1562"/>
</g>
<rect x="3630" y="721" width="1249" height="1070" fill="none" stroke="#000" stroke-width="7"/>

<rect x="3722" y="732" width="1086" height="87" fill="#fff" stroke="#808080" stroke-width="4" stroke-dasharray="10 6"/>
<text x="3639" y="783" font-size="32" font-weight="bold" textLength="78" lengthAdjust="spacingAndGlyphs">Query</text>
<text class="cj" x="3729" y="769" font-size="33" textLength="1048" lengthAdjust="spacingAndGlyphs"><tspan fill="#FF7043">①</tspan> She gets two kiwis <tspan fill="#FF99CC">②</tspan> She gets a cutting board <tspan fill="#FFA020">③</tspan> She gets a plate <tspan fill="#92D050">④</tspan> She gets</text>
<text class="cj" x="3729" y="806" font-size="33" textLength="1029" lengthAdjust="spacingAndGlyphs">a knife then rinses the kiwis <tspan fill="#00B0F0">⑤</tspan> She <tspan fill="#4DB6AC" font-weight="bold">peels</tspan> and <tspan fill="#FF5050" font-weight="bold">chops</tspan> the <tspan fill="#6F8FD0" font-weight="bold">kiwis</tspan> <tspan fill="#A9A9FF">⑥</tspan> She cleans up</text>
<use href="#kf2" x="3720" y="824"/><use href="#kf2" x="3811" y="824"/><use href="#kf" x="3901" y="824"/><use href="#kf" x="3992" y="824"/><use href="#kf" x="4083" y="824"/><use href="#kf" x="4173" y="824"/><use href="#kf" x="4264" y="824"/><use href="#kf" x="4355" y="824"/><use href="#kf" x="4445" y="824"/><use href="#kf" x="4536" y="824"/><use href="#kf" x="4627" y="824"/><use href="#kf2" x="4717" y="824"/>
<text x="3643" y="933" font-size="32" font-weight="bold" textLength="73" lengthAdjust="spacingAndGlyphs">Video</text>

<g font-size="32" font-weight="bold">
<text x="3645" y="1057" textLength="70" lengthAdjust="spacingAndGlyphs">Para.</text>
<text x="3645" y="1092" textLength="62" lengthAdjust="spacingAndGlyphs">Level</text>
<text x="3645" y="1325" textLength="62" lengthAdjust="spacingAndGlyphs">Sent.</text>
<text x="3645" y="1360" textLength="62" lengthAdjust="spacingAndGlyphs">Level</text>
<text x="3641" y="1669" textLength="67" lengthAdjust="spacingAndGlyphs">Word</text>
<text x="3643" y="1704" textLength="62" lengthAdjust="spacingAndGlyphs">Level</text>
</g>
<g stroke="#000" stroke-width="3" fill="#fff">
<rect x="3722" y="1044" width="1081" height="40"/>
<rect x="3722" y="1121" width="1081" height="40"/>
<rect x="3722" y="1197" width="1081" height="40"/>
<rect x="3722" y="1274" width="1081" height="40"/>
<rect x="3722" y="1350" width="1081" height="40"/>
<rect x="3722" y="1427" width="1081" height="41"/>
<rect x="3722" y="1504" width="1081" height="41"/>
<rect x="3722" y="1580" width="1081" height="41"/>
<rect x="3722" y="1657" width="1081" height="40"/>
<rect x="3722" y="1736" width="1081" height="41"/>
</g>
<rect x="3830" y="1045" width="802" height="38" fill="#843C0C"/>
<rect x="3830" y="1122" width="81" height="38" fill="#FF7B4B"/>
<rect x="3911" y="1198" width="89" height="38" fill="#FFA3D5"/>
<rect x="4000" y="1275" width="60" height="38" fill="#FFA52A"/>
<rect x="4060" y="1351" width="105" height="38" fill="#7FFFFF"/>
<rect x="4163" y="1428" width="410" height="39" fill="#3EC1EF"/>
<rect x="4573" y="1505" width="117" height="39" fill="#B0B0FF"/>
<rect x="4206" y="1581" width="191" height="39" fill="#4DB6AC"/>
<rect x="4384" y="1658" width="141" height="38" fill="#FF6060"/>
<rect x="4372" y="1737" width="187" height="39" fill="#7090D0"/>
<line x1="3830" y1="1044" x2="3830" y2="1084" stroke="#000" stroke-width="2"/>
<g class="cj" font-size="30" font-weight="bold">
<text x="3727" y="1075" font-weight="normal" textLength="88" lengthAdjust="spacingAndGlyphs">①~⑥</text>
<text x="3729" y="1153" textLength="90" lengthAdjust="spacingAndGlyphs">Sent.①</text>
<text x="3729" y="1229" textLength="90" lengthAdjust="spacingAndGlyphs">Sent.②</text>
<text x="3729" y="1306" textLength="90" lengthAdjust="spacingAndGlyphs">Sent.③</text>
<text x="3729" y="1382" textLength="90" lengthAdjust="spacingAndGlyphs">Sent.④</text>
<text x="3729" y="1459" textLength="90" lengthAdjust="spacingAndGlyphs">Sent.⑤</text>
<text x="3729" y="1536" textLength="90" lengthAdjust="spacingAndGlyphs">Sent.⑥</text>
<text x="3729" y="1611" textLength="60" lengthAdjust="spacingAndGlyphs">Peels</text>
<text x="3729" y="1688" textLength="70" lengthAdjust="spacingAndGlyphs">Chops</text>
<text x="3729" y="1767" textLength="60" lengthAdjust="spacingAndGlyphs">Kiwis</text>
</g>
<g fill="none" stroke="#000" stroke-width="6">
<path d="M4806,1141 Q4822,1141 4822,1160 L4822,1312 Q4822,1331 4836,1331 Q4822,1331 4822,1350 L4822,1522 Q4822,1541 4806,1541"/>
<path d="M4806,1600 Q4822,1600 4822,1618 L4822,1660 Q4822,1678 4836,1678 Q4822,1678 4822,1696 L4822,1740 Q4822,1757 4806,1757"/>
</g>
<path d="M4806,1063 C4852,1075 4852,1160 4846,1312" fill="none" stroke="#8B4A1E" stroke-width="6" stroke-dasharray="16 10" marker-end="url(#mkbr)"/>
<path d="M4806,1448 C4852,1460 4852,1550 4846,1652" fill="none" stroke="#33B5E8" stroke-width="6" stroke-dasharray="16 10" marker-end="url(#mkc)"/>

<text class="h" x="3882" y="1882" textLength="743" lengthAdjust="spacingAndGlyphs">Summary &amp; Conclusion</text>
<circle cx="3633" cy="1939" r="13"/>
<circle cx="3633" cy="2058" r="13"/>
<circle cx="3633" cy="2176" r="13"/>
<circle cx="3633" cy="2350" r="13"/>
<text class="b" x="3670" y="1954" textLength="1220" lengthAdjust="spacingAndGlyphs">We observe and investigate the hierarchical cross-modal</text>
<text class="b" x="3670" y="2011" textLength="1120" lengthAdjust="spacingAndGlyphs">semantic relations between the videos and paragraphs.</text>
<text class="b" x="3670" y="2074" textLength="1220" lengthAdjust="spacingAndGlyphs">We design a novel encoder-decoder network consisting of a</text>
<text class="b" x="3670" y="2128" textLength="1233" lengthAdjust="spacingAndGlyphs">hierarchical multi-modal encoder and a progressive decoder.</text>
<text class="b" x="3670" y="2193" textLength="1220" lengthAdjust="spacingAndGlyphs">For the first time, our VPG model can utilize the hierarchical</text>
<text class="b" x="3670" y="2247" textLength="1220" lengthAdjust="spacingAndGlyphs">semantic correspondence between videos and paragraphs</text>
<text class="b" x="3670" y="2302" textLength="1190" lengthAdjust="spacingAndGlyphs">to perform grounding of multiple levels of linguistic queries.</text>
<text class="b" x="3670" y="2365" textLength="1220" lengthAdjust="spacingAndGlyphs">The proposed approach remarkably surpasses previous</text>
<text class="b" x="3670" y="2419" textLength="1190" lengthAdjust="spacingAndGlyphs">approaches by introducing hierarchical modeling into VPG.</text>
</svg>
</body></html>
